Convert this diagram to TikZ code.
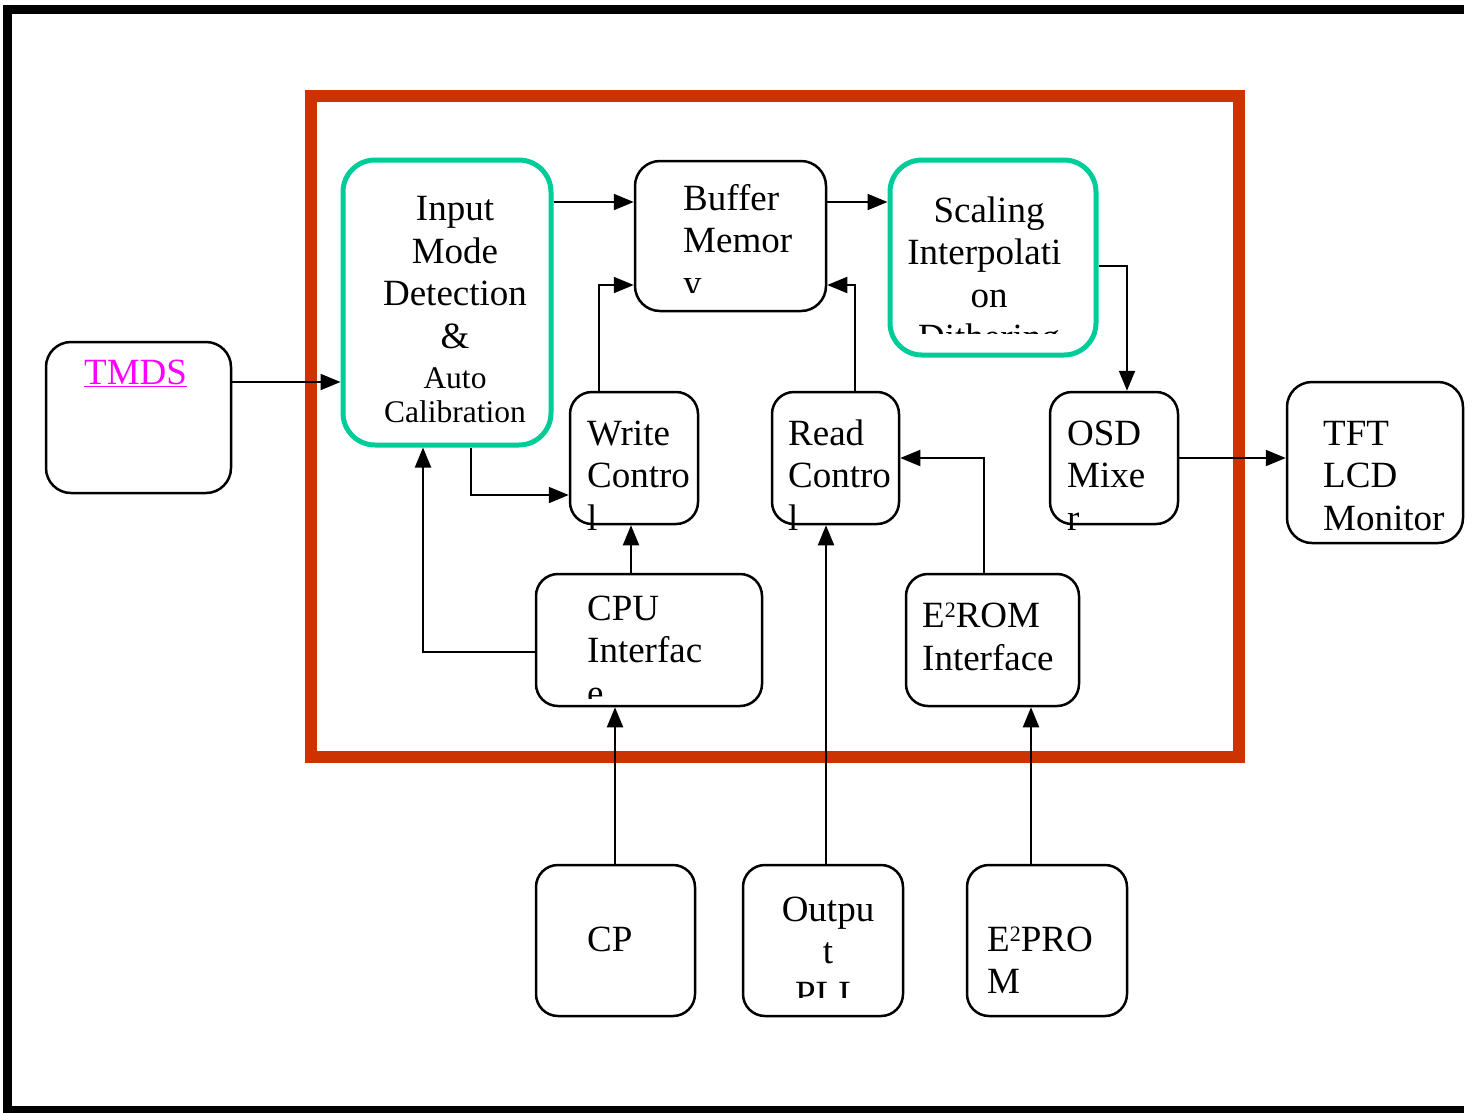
\documentclass[tikz,border=0pt]{standalone}
\usepackage{fontspec}
\setmainfont{Liberation Serif}
\usetikzlibrary{arrows.meta,fit}
\definecolor{tealc}{RGB}{0,204,153}
\definecolor{redc}{RGB}{204,51,0}
\definecolor{magc}{RGB}{255,0,255}
\newcommand{\suptwo}{\raisebox{10pt}{\fontsize{22}{22}\selectfont 2}}
\begin{document}
\begin{tikzpicture}[x=1pt,y=-1pt,
  box/.style={draw=black, line width=2.5pt, rounded corners=22pt, inner sep=0pt},
  hibox/.style={draw=tealc, line width=5pt, rounded corners=32pt, inner sep=0pt},
  conn/.style={line width=2pt, -{Triangle[length=20pt,width=16pt]}},
  txt/.style={inner sep=0pt, font=\fontsize{37}{42.5}\selectfont},
  stxt/.style={inner sep=0pt, font=\fontsize{31.5}{34}\selectfont},
  ltxt/.style={txt, anchor=base west, align=left},
  ctxt/.style={txt, anchor=base, align=center}]
\useasboundingbox (0,0) rectangle (1473,1112);
% outer frame (open on the right)
\draw[line width=9pt] (1464,9.5) -- (7.5,9.5) -- (7.5,1110.5) -- (1464,1110.5);
% red chip frame
\draw[redc, line width=12pt] (311,96) rectangle (1239,757);

% boxes
\node[box, rounded corners=25pt, fit={(46,342) (231,493)}] (tmds) {};
\node[hibox, fit={(343,160) (551,445)}] (in) {};
\node[box, rounded corners=25pt, fit={(635,161) (826,311)}] (buf) {};
\node[hibox, fit={(890,160) (1096,355)}] (sc) {};
\node[box, fit={(570,392) (698,524)}] (wc) {};
\node[box, fit={(772,392) (899,524)}] (rc) {};
\node[box, fit={(1050,392) (1178,524)}] (osd) {};
\node[box, rounded corners=25pt, fit={(1287,382) (1463,543)}] (tft) {};
\node[box, fit={(536,574) (762,706)}] (cpu) {};
\node[box, fit={(906,574) (1079,706)}] (e2i) {};
\node[box, fit={(536,865) (695,1016)}] (cp) {};
\node[box, fit={(743,865) (903,1016)}] (pll) {};
\node[box, fit={(967,865) (1127,1016)}] (e2p) {};

% texts (multi-line nodes are placed by the baseline of their last line)
\node[txt, anchor=base west, text=magc] (tmdst) at (84,384) {\underline{TMDS}};
\node[ctxt] (int1) at (455,348) {Input\\Mode\\Detection\\\&};
\node[stxt, anchor=base, align=center] (int2) at (455,422) {Auto\\Calibration};
\begin{scope}
  \clip (635,161) rectangle (826,292);
  \node[ltxt] (buft) at (683,295) {Buffer\\Memor\\y};
\end{scope}
\begin{scope}
  \clip (890,160) rectangle (1096,333);
  \node[ctxt] (sct) at (989,349.5) {Scaling\\Interpolati\rule{9.25pt}{0pt}\\on\\Dithering};
\end{scope}
\node[ltxt] (wct) at (587,530) {Write\\Contro\\l};
\node[ltxt] (rct) at (788,530) {Read\\Contro\\l};
\node[ltxt] (osdt) at (1067,530) {OSD\\Mixe\\r};
\node[ltxt] (tftt) at (1323,530) {TFT\\LCD\\Monitor};
\begin{scope}
  \clip (536,574) rectangle (762,698);
  \node[ltxt] (cput) at (587,705) {CPU\\Interfac\\e};
\end{scope}
\node[ltxt] (e2it) at (922,670) {E\suptwo ROM\\Interface};
\node[ltxt] (cpt) at (587,951) {CP};
\begin{scope}
  \clip (743,865) rectangle (903,997);
  \node[ctxt] (pllt) at (828,1006) {Outpu\\t\\PLL};
\end{scope}
\node[ltxt] (e2pt) at (987,993.5) {E\suptwo PRO\\M};

% connectors
\draw[conn] (tmds.east |- 0,382) -- (in.west |- 0,382);
\draw[conn] (in.east |- 0,202) -- (buf.west |- 0,202);
\draw[conn] (buf.east |- 0,202) -- (sc.west |- 0,202);
\draw[conn] (sc.east |- 0,266) -| (osd.north -| 1127,0);
\draw[conn] (osd.east |- 0,458) -- (tft.west |- 0,458);
\draw[conn] (wc.north -| 599,0) |- (buf.west |- 0,285);
\draw[conn] (rc.north -| 855,0) |- (buf.east |- 0,285);
\draw[conn] (in.south -| 471,0) |- (wc.west |- 0,495);
\draw[conn] (cpu.north -| 631,0) -- (wc.south -| 631,0);
\draw[conn] (cpu.west |- 0,652) -| (in.south -| 423,0);
\draw[conn] (e2i.north -| 984,0) |- (rc.east |- 0,458);
\draw[conn] (pll.north -| 826,0) -- (rc.south -| 826,0);
\draw[conn] (cp.north -| 615,0) -- (cpu.south -| 615,0);
\draw[conn] (e2p.north -| 1031,0) -- (e2i.south -| 1031,0);
\end{tikzpicture}
\end{document}
